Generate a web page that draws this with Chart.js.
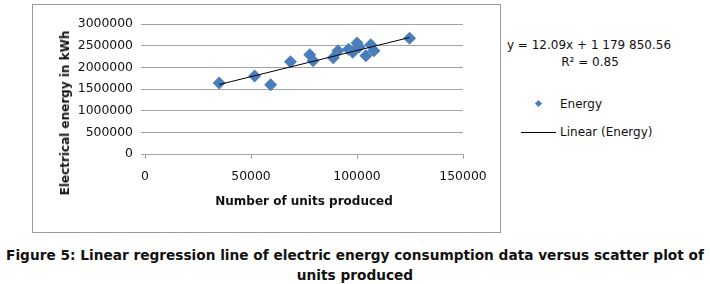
<!DOCTYPE html>
<html>
<head>
<meta charset="utf-8">
<script src="https://cdn.jsdelivr.net/npm/chart.js@4/dist/chart.umd.min.js"></script>
<style>
  body { margin: 0; background: #fff; width: 710px; height: 284px; position: relative; overflow: hidden;
         font-family: "DejaVu Sans", sans-serif; color: #111; }
  #frame { position: absolute; left: 32px; top: 4px; width: 467px; height: 227px; border: 1px solid #9a9a9a; }
  #chartBox { position: absolute; left: 33px; top: 5px; width: 466px; height: 226px; }
  .txt { position: absolute; font-size: 12px; white-space: nowrap; }
  #yTitle { position: absolute; left: 65px; top: 113px; font-size: 12px; font-weight: bold; white-space: nowrap;
            transform: translate(-50%, -50%) rotate(-90deg); }
  #eq { left: 589px; top: 45px; transform: translate(-50%, -50%); text-align: center; }
  #r2 { left: 590px; top: 62px; transform: translate(-50%, -50%); }
  #legDot { position: absolute; left: 536px; top: 101px; width: 5px; height: 5px; background: #4a7ebb; transform: rotate(45deg); }
  #legLine { position: absolute; left: 521px; top: 132px; width: 35px; height: 1px; background: #000; }
  #legEnergy { left: 560px; top: 104px; transform: translateY(-50%); }
  #legLinear { left: 560px; top: 132px; transform: translateY(-50%); }
  #caption { position: absolute; left: 0; top: 245px; width: 710px; text-align: center; font-family: "DejaVu Sans", sans-serif;
             font-weight: bold; font-size: 13.7px; line-height: 20px; color: #111; }
</style>
</head>
<body>
<div id="frame"></div>
<div id="chartBox"><canvas id="chartEnergy"></canvas></div>
<div id="yTitle">Electrical energy in kWh</div>
<div class="txt" id="eq">y = 12.09x + 1 179 850.56</div>
<div class="txt" id="r2">R² = 0.85</div>
<div id="legDot"></div>
<div class="txt" id="legEnergy">Energy</div>
<div id="legLine"></div>
<div class="txt" id="legLinear">Linear (Energy)</div>
<div id="caption">Figure 5: Linear regression line of electric energy consumption data versus scatter plot of<br>units produced</div>
<script>
// units produced per period (x) and electrical energy in kWh (y)
var unitsProduced = [35000, 51700, 59300, 68600, 77700, 79300, 88800, 91000, 96000, 98000, 100000, 101000, 104200, 106500, 108000, 124800];
var energyKWh = [1640000, 1800000, 1600000, 2130000, 2290000, 2150000, 2220000, 2380000, 2420000, 2350000, 2560000, 2470000, 2270000, 2520000, 2380000, 2670000];

// trend line from the printed equation
var slope = 12.09;
var intercept = 1179850.56;

var xTicks = [0, 50000, 100000, 150000];
var yTicks = [0, 500000, 1000000, 1500000, 2000000, 2500000, 3000000];

var points = [];
for (var i = 0; i < unitsProduced.length; i++) {
    points.push({x: unitsProduced[i], y: energyKWh[i]});
}
var xMin = Math.min.apply(null, unitsProduced);
var xMax = Math.max.apply(null, unitsProduced);
var trend = [
    {x: xMin, y: slope * xMin + intercept},
    {x: xMax, y: slope * xMax + intercept}
];

var gridColor = '#a3a3a3';
var textColor = '#111';
var font12 = {family: 'DejaVu Sans', size: 12.4};

var ctx = document.getElementById('chartEnergy');
var myScatter = new Chart(ctx, {
    type: 'scatter',
    data: {
        datasets: [{
            label: 'Linear (Energy)',
            data: trend,
            showLine: true,
            borderColor: '#000',
            borderWidth: 1,
            pointRadius: 0,
            fill: false
        }, {
            label: 'Energy',
            data: points,
            pointStyle: 'rectRot',
            pointRadius: 6.5,
            backgroundColor: '#4a7ebb',
            borderColor: '#4a7ebb',
            borderWidth: 0
        }]
    },
    options: {
        responsive: true,
        maintainAspectRatio: false,
        animation: false,
        events: [],
        layout: {
            padding: {left: 0, right: 36, top: 19, bottom: 0}
        },
        plugins: {
            legend: {display: false},
            tooltip: {enabled: false}
        },
        scales: {
            x: {
                min: 0,
                max: 150000,
                afterBuildTicks: function(scale) {
                    scale.ticks = xTicks.map(function(v) { return {value: v}; });
                },
                afterFit: function(scale) { scale.height = 77; },
                ticks: {
                    color: textColor,
                    font: font12,
                    padding: 10,
                    maxRotation: 0,
                    callback: function(v) { return String(v); }
                },
                grid: {
                    drawOnChartArea: false,
                    drawTicks: true,
                    tickLength: 5,
                    color: gridColor
                },
                border: {display: true, color: gridColor},
                title: {
                    display: true,
                    text: 'Number of units produced',
                    color: textColor,
                    font: {family: 'DejaVu Sans', size: 12, weight: 'bold'},
                    padding: {top: 0, bottom: 22}
                }
            },
            y: {
                min: 0,
                max: 3000000,
                afterBuildTicks: function(scale) {
                    scale.ticks = yTicks.map(function(v) { return {value: v}; });
                },
                afterFit: function(scale) { scale.width = 112; },
                ticks: {
                    color: textColor,
                    font: font12,
                    padding: 8,
                    callback: function(v) { return String(v); }
                },
                grid: {
                    color: gridColor,
                    tickLength: 4
                },
                border: {display: false}
            }
        }
    }
});
</script>
</body>
</html>
